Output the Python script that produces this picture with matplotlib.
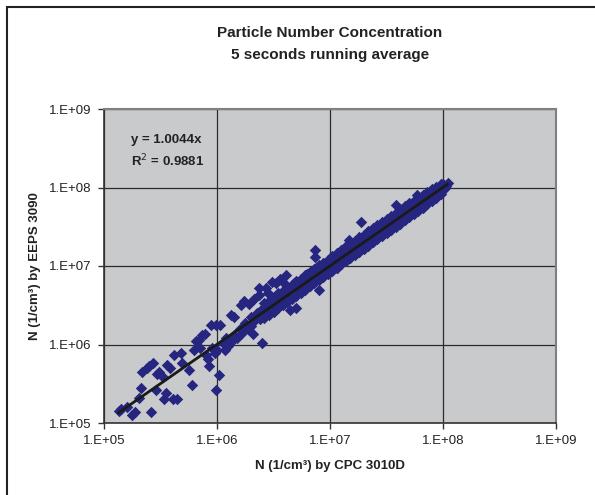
import numpy as np
from matplotlib import pyplot as plt
from matplotlib.patches import Rectangle

# log10 of the concentrations (x = CPC 3010D, y = EEPS 3090)
cpc_exp = [
    5.13, 5.15, 5.20, 5.25, 5.27, 5.42, 5.31, 5.33, 5.34, 5.38, 5.43, 5.46, 5.49,
    5.52, 5.55, 5.53, 5.61, 5.65, 5.56, 5.62, 5.68, 5.69, 5.75, 5.78, 5.80, 5.81,
    5.84, 5.87, 5.89, 5.92, 5.93, 5.95, 5.99, 5.99, 5.98, 6.02, 5.40, 5.47, 5.58,
    5.85, 5.90, 5.96, 6.00, 6.07, 6.03, 6.12, 6.21, 6.24, 6.30, 6.32, 6.40, 6.37,
    6.37, 6.49, 6.56, 6.61, 6.70, 6.65, 6.87, 6.87, 6.90, 7.17, 7.27, 7.58, 7.77,
    6.05, 6.08, 6.10, 6.13, 6.15, 6.18, 6.20, 6.22, 6.25, 6.27, 6.30, 6.33, 6.35,
    6.38, 6.40, 6.42, 6.45, 6.47, 6.50, 6.52, 6.55, 6.57, 6.60, 6.62, 6.64, 6.66,
    6.68, 6.70, 6.72, 6.74, 6.76, 6.78, 6.80, 6.82, 6.84, 6.86, 6.88, 6.90, 6.92,
    6.94, 6.96, 6.98, 7.00, 7.02, 6.15, 6.28, 6.33, 6.43, 6.45, 6.52, 6.58,
    7.04, 7.06, 7.08, 7.10, 7.12, 7.14, 7.16, 7.18, 7.20, 7.22, 7.24, 7.26, 7.28,
    7.30, 7.32, 7.34, 7.36, 7.38, 7.40, 7.42, 7.44, 7.46, 7.48, 7.50, 7.52, 7.54,
    7.56, 7.58, 7.60, 7.62, 7.64, 7.66, 7.68, 7.70, 7.72, 7.74, 7.76, 7.78, 7.80,
    7.82, 7.84, 7.86, 7.88, 7.90, 7.92, 7.94, 7.96, 7.98, 8.00, 8.02, 8.04, 8.03,
    8.01, 6.80, 6.85, 6.90, 6.95, 7.00, 7.05, 7.10, 7.15, 7.20, 7.25, 7.30, 7.35,
    7.40, 7.45, 7.50, 7.55, 7.60, 7.65, 7.70, 7.75, 7.80, 7.85, 7.90, 7.95, 6.50,
    6.55, 6.60, 6.65, 6.70, 6.75,
]
eeps_exp = [
    5.15, 5.18, 5.20, 5.10, 5.14, 5.14, 5.32, 5.45, 5.65, 5.70, 5.76, 5.42, 5.65,
    5.59, 5.38, 5.31, 5.31, 5.31, 5.74, 5.87, 5.89, 5.76, 5.68, 5.48, 5.93, 6.04,
    6.06, 6.12, 6.14, 5.82, 5.72, 6.25, 6.25, 5.42, 5.89, 5.61, 5.72, 5.62, 5.70,
    5.95, 5.86, 5.95, 5.93, 5.93, 6.25, 6.38, 6.50, 6.55, 6.23, 6.14, 6.02, 6.72,
    6.63, 6.80, 6.84, 6.89, 6.46, 6.44, 7.20, 7.12, 6.69, 7.33, 7.56, 7.78, 7.90,
    6.02, 6.08, 5.98, 6.05, 6.12, 6.08, 6.20, 6.15, 6.28, 6.20, 6.35, 6.30, 6.40,
    6.33, 6.45, 6.38, 6.50, 6.42, 6.58, 6.48, 6.62, 6.52, 6.68, 6.57, 6.72, 6.62,
    6.78, 6.66, 6.80, 6.70, 6.85, 6.74, 6.90, 6.78, 6.93, 6.82, 6.97, 6.86, 7.00,
    6.90, 7.04, 6.92, 7.07, 6.96, 6.35, 6.52, 6.58, 6.72, 6.65, 6.78, 6.80,
    7.12, 6.98, 7.15, 7.03, 7.20, 7.08, 7.24, 7.12, 7.28, 7.16, 7.30, 7.20, 7.34,
    7.24, 7.40, 7.28, 7.42, 7.32, 7.46, 7.36, 7.50, 7.40, 7.55, 7.44, 7.57, 7.48,
    7.62, 7.52, 7.66, 7.56, 7.69, 7.60, 7.74, 7.65, 7.77, 7.68, 7.80, 7.72, 7.85,
    7.76, 7.88, 7.81, 7.92, 7.85, 7.96, 7.90, 8.00, 7.95, 8.04, 8.00, 8.06, 8.02,
    7.98, 6.82, 6.84, 6.92, 6.94, 7.01, 7.06, 7.11, 7.15, 7.21, 7.25, 7.31, 7.35,
    7.40, 7.46, 7.51, 7.55, 7.60, 7.66, 7.71, 7.75, 7.80, 7.86, 7.90, 7.96, 6.52,
    6.55, 6.61, 6.65, 6.71, 6.76,
]
# edges of the dense band (same x for both edges)
band_cpc_exp = [
    6.42, 6.46, 6.50, 6.54, 6.58, 6.62, 6.66, 6.70, 6.74, 6.78, 6.82, 6.86, 6.90,
    6.94, 6.98, 7.02, 7.06, 7.10, 7.14, 7.18, 7.22, 7.26, 7.30, 7.34, 7.38, 7.42,
    7.46, 7.50, 7.54, 7.58, 7.62, 7.66, 7.70, 7.74, 7.78, 7.82, 7.86, 7.90, 7.94,
    7.98,
]
band_upper_exp = [
    6.53, 6.55, 6.60, 6.65, 6.68, 6.73, 6.76, 6.81, 6.84, 6.89, 6.92, 6.96, 7.01,
    7.04, 7.08, 7.13, 7.16, 7.20, 7.25, 7.28, 7.32, 7.37, 7.40, 7.44, 7.49, 7.52,
    7.56, 7.60, 7.64, 7.68, 7.72, 7.76, 7.80, 7.83, 7.87, 7.91, 7.94, 7.98, 8.01,
    8.05,
]
band_lower_exp = [
    6.34, 6.38, 6.42, 6.46, 6.50, 6.54, 6.58, 6.62, 6.66, 6.70, 6.74, 6.78, 6.82,
    6.86, 6.90, 6.94, 6.98, 7.02, 7.06, 7.10, 7.14, 7.18, 7.22, 7.26, 7.30, 7.34,
    7.38, 7.42, 7.46, 7.50, 7.54, 7.58, 7.62, 7.66, 7.70, 7.74, 7.79, 7.83, 7.87,
    7.92,
]
slope = 1.0044
r2 = 0.9881
tick_values = [1e5, 1e6, 1e7, 1e8, 1e9]
tick_labels = ["1.E+05", "1.E+06", "1.E+07", "1.E+08", "1.E+09"]

plt.rcParams['font.family'] = ['Liberation Sans', 'DejaVu Sans']

cpc = 10.0 ** np.array(cpc_exp + band_cpc_exp + band_cpc_exp)
eeps = 10.0 ** np.array(eeps_exp + band_upper_exp + band_lower_exp)

fig = plt.figure(figsize=(5.95, 4.95), dpi=100)
ax = fig.add_axes([104 / 595, 1 - 423 / 495, 452 / 595, 314 / 495])
ax.set_facecolor("#c9cacc")

ax.scatter(cpc, eeps, marker="D", s=34, color="#262680", linewidths=0, zorder=3)

line_x = np.array([cpc.min(), cpc.max()])
ax.plot(line_x, slope * line_x, color="#1a1a1a", lw=2, zorder=4)

ax.set_xscale("log")
ax.set_yscale("log")
ax.set_xlim(1e5, 1e9)
ax.set_ylim(1e5, 1e9)
ax.set_xticks(tick_values)
ax.set_xticklabels(tick_labels)
ax.set_yticks(tick_values)
ax.set_yticklabels(tick_labels)
ax.minorticks_off()
ax.tick_params(direction="out", length=4, width=1, color="#333333",
               labelsize=9.5, labelcolor="#222222", pad=5)
ax.grid(True, color="#2b2b2b", lw=0.9, zorder=1)
ax.set_axisbelow(True)
for side in ["left", "bottom"]:
    ax.spines[side].set_color("#333333")
    ax.spines[side].set_linewidth(1.2)
for side in ["top", "right"]:
    ax.spines[side].set_color("#808080")
    ax.spines[side].set_linewidth(1.5)

ax.text(0.06, 0.90, "y = %.4fx" % slope, transform=ax.transAxes,
        fontsize=9.5, fontweight="bold", color="#222222", va="center")
ax.text(0.06, 0.835, "R$^2$ = %.4f" % r2, transform=ax.transAxes,
        fontsize=9.5, fontweight="bold", color="#222222", va="center")

fig.text(330 / 595, 1 - 33 / 495, "Particle Number Concentration",
         ha="center", va="center", fontsize=11, fontweight="bold", color="#222222")
fig.text(330 / 595, 1 - 55 / 495, "5 seconds running average",
         ha="center", va="center", fontsize=11, fontweight="bold", color="#222222")
fig.text(330 / 595, 1 - 466 / 495, "N (1/cm³) by CPC 3010D",
         ha="center", va="center", fontsize=9.5, fontweight="bold", color="#222222")
fig.text(35 / 595, 1 - 266 / 495, "N (1/cm³) by EEPS 3090", rotation=90,
         ha="center", va="center", fontsize=9.5, fontweight="bold", color="#222222")

fig.patches.append(Rectangle((7 / 595, -0.1), 1.2, 1 - 7 / 495 + 0.1,
                             transform=fig.transFigure, fill=False,
                             edgecolor="#222222", lw=1.5))

fig.savefig("out.png", dpi=100)
